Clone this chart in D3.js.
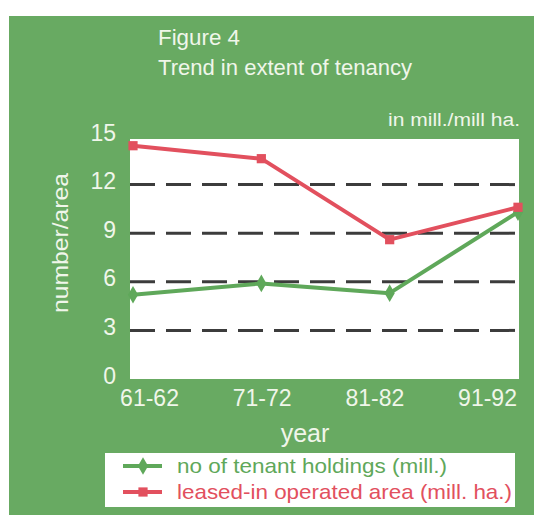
<!DOCTYPE html>
<html><head><meta charset="utf-8">
<script src="https://cdn.jsdelivr.net/npm/d3@7"></script>
<style>body{margin:0;background:#fff}svg{display:block}text{font-family:"Liberation Sans",Arial,sans-serif}</style>
</head><body><svg id="c" width="534" height="515"></svg>
<script>
const years = ["61-62","71-72","81-82","91-92"];
const tenantHoldings = [5.2, 5.9, 5.3, 10.3];
const leasedArea = [14.4, 13.6, 8.6, 10.6];
const yTicks = [0,3,6,9,12,15];
const gridTicks = [3,6,9,12];
const seriesNames = ["no of tenant holdings (mill.)", "leased-in operated area (mill. ha.)"];

const bg = "#68aa62", txt = "#f0f6ea", red = "#e2505e", green = "#5fa85a";
const svg = d3.select("#c");
const P = {l:130, r:519, t:139, b:379};

svg.append("rect").attr("x",9).attr("y",16).attr("width",525).attr("height",499).attr("fill",bg);

const x = d3.scalePoint().domain(years).range([133,518]);
const xl = d3.scalePoint().domain(years).range([149,487]);
const y = d3.scaleLinear().domain([0,15]).range([379,136]);

svg.append("rect").attr("x",P.l).attr("y",P.t).attr("width",P.r-P.l).attr("height",P.b-P.t).attr("fill","#fff");

// grid
svg.append("g").selectAll("line").data(gridTicks).join("line")
  .attr("x1",P.l).attr("x2",P.r).attr("y1",d=>y(d)).attr("y2",d=>y(d))
  .attr("stroke","#3c3c3c").attr("stroke-width",3).attr("stroke-dasharray","25,11");

// titles
svg.append("text").attr("x",158).attr("y",45).attr("font-size",22).attr("fill",txt).attr("textLength",82).attr("lengthAdjust","spacingAndGlyphs").text("Figure 4");
svg.append("text").attr("x",158).attr("y",75).attr("font-size",22).attr("fill",txt).attr("textLength",254).attr("lengthAdjust","spacingAndGlyphs").text("Trend in extent of tenancy");
svg.append("text").attr("x",388).attr("y",126).attr("font-size",18).attr("fill",txt).attr("textLength",132).attr("lengthAdjust","spacingAndGlyphs").text("in mill./mill ha.");

// y axis
const ya = svg.append("g").attr("transform",`translate(${P.l},0)`)
  .call(d3.axisLeft(y).tickValues(yTicks).tickSize(0).tickPadding(14).tickFormat(d3.format("d")));
ya.select(".domain").remove();
ya.selectAll("text").attr("font-size",23).attr("fill",txt).attr("dy","0.18em").style("font-family","'Liberation Sans',Arial,sans-serif");

svg.append("text").attr("transform","translate(68,243) rotate(-90)").attr("text-anchor","middle")
  .attr("font-size",22).attr("fill",txt).attr("textLength",140).attr("lengthAdjust","spacingAndGlyphs").text("number/area");

// x axis labels
const xa = svg.append("g").attr("transform",`translate(0,${P.b})`)
  .call(d3.axisBottom(xl).tickSize(0).tickPadding(11));
xa.select(".domain").remove();
xa.selectAll("text").attr("font-size",23).attr("fill",txt).style("font-family","'Liberation Sans',Arial,sans-serif");

svg.append("text").attr("x",305).attr("y",442).attr("text-anchor","middle").attr("font-size",25).attr("fill",txt).text("year");

// lines
const line = d3.line().x((d,i)=>x(years[i])).y(d=>y(d));
svg.append("path").datum(tenantHoldings).attr("d",line).attr("fill","none").attr("stroke",green).attr("stroke-width",4).attr("stroke-linejoin","round");
svg.append("path").datum(leasedArea).attr("d",line).attr("fill","none").attr("stroke",red).attr("stroke-width",4).attr("stroke-linejoin","round");

const diamond = d3.symbol().type(d3.symbolDiamond).size(90);
const square = d3.symbol().type(d3.symbolSquare).size(85);
svg.append("g").selectAll("path").data(tenantHoldings).join("path")
  .attr("transform",(d,i)=>`translate(${x(years[i])},${y(d)})`).attr("d",diamond).attr("fill",green);
svg.append("g").selectAll("path").data(leasedArea).join("path")
  .attr("transform",(d,i)=>`translate(${x(years[i])},${y(d)})`).attr("d",square).attr("fill",red);

// legend
svg.append("rect").attr("x",105).attr("y",453).attr("width",410).attr("height",54).attr("fill","#fff");
const leg = [
  {name:seriesNames[0], color:green, sym:diamond, y:466, ty:473, len:270},
  {name:seriesNames[1], color:red, sym:square, y:492, ty:499, len:335}
];
leg.forEach(L=>{
  svg.append("line").attr("x1",123).attr("x2",162).attr("y1",L.y).attr("y2",L.y).attr("stroke",L.color).attr("stroke-width",4);
  svg.append("path").attr("transform",`translate(143,${L.y})`).attr("d",L.sym).attr("fill",L.color);
  svg.append("text").attr("x",177).attr("y",L.ty).attr("font-size",21).attr("fill",L.color)
    .attr("textLength",L.len).attr("lengthAdjust","spacingAndGlyphs").text(L.name);
});
</script></body></html>
